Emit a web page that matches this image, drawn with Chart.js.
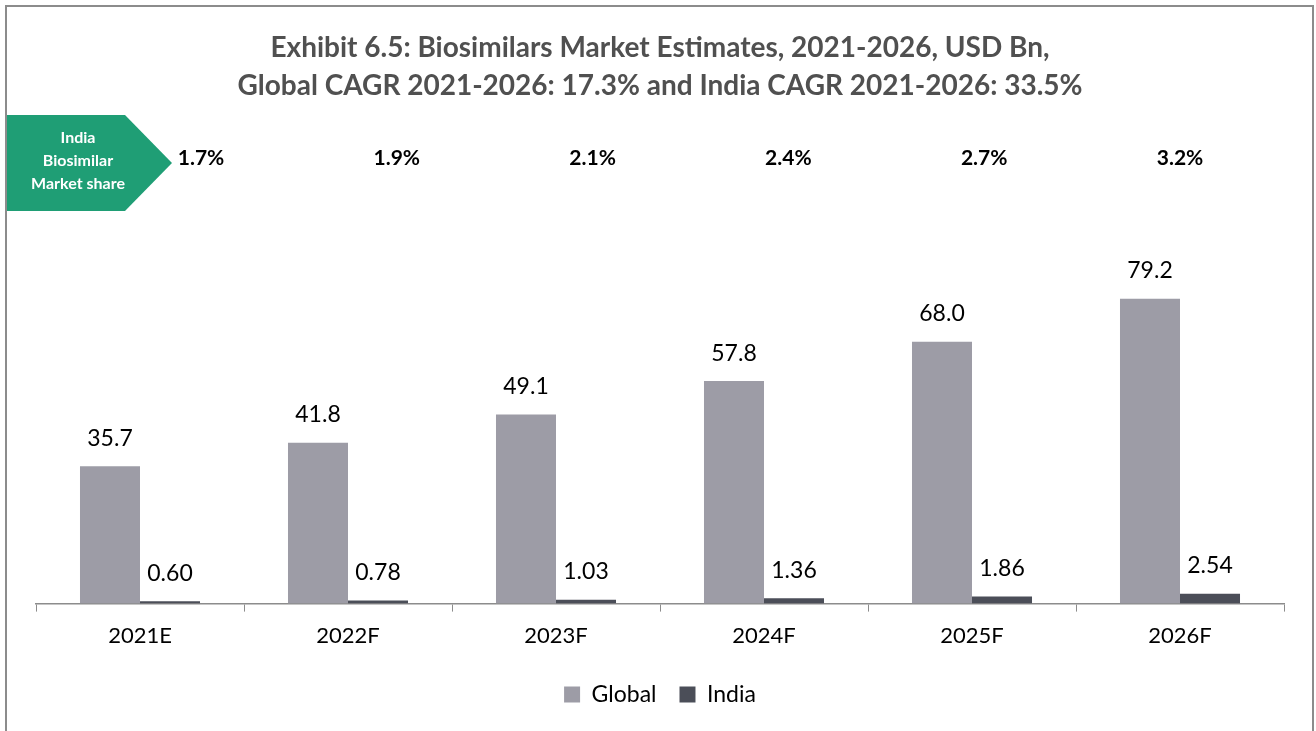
<!DOCTYPE html>
<html>
<head>
<meta charset="utf-8">
<title>Biosimilars Market Estimates</title>
<script src="https://cdn.jsdelivr.net/npm/chart.js@4.4.1/dist/chart.umd.min.js"></script>
<style>
    html, body { margin: 0; padding: 0; background: #fff; }
    #wrap { width: 1316px; height: 731px; position: relative; }
</style>
</head>
<body>
<div id="wrap"><canvas id="chartBiosimilars"></canvas></div>
<script>
// --- DATA ---
const categories = ['2021E', '2022F', '2023F', '2024F', '2025F', '2026F'];
const globalValues = [35.7, 41.8, 49.1, 57.8, 68.0, 79.2];   // USD Bn
const indiaValues = [0.60, 0.78, 1.03, 1.36, 1.86, 2.54];    // USD Bn
const indiaShare = [1.7, 1.9, 2.1, 2.4, 2.7, 3.2];           // % of global
const titleLines = [
    'Exhibit 6.5: Biosimilars Market Estimates, 2021-2026, USD Bn,',
    'Global CAGR 2021-2026: 17.3% and India CAGR 2021-2026: 33.5%'
];

const FONT = 'Lato, "Open Sans", sans-serif';
const GREEN = '#1f9e75';

// Outer frame (left, top, right edges)
const framePlugin = {
    id: 'frame',
    beforeDraw(chart) {
        const ctx = chart.ctx;
        ctx.save();
        ctx.strokeStyle = '#8c8c8c';
        ctx.lineWidth = 2;
        ctx.beginPath();
        ctx.moveTo(6, chart.height);
        ctx.lineTo(6, 6);
        ctx.lineTo(1313, 6);
        ctx.lineTo(1313, chart.height);
        ctx.stroke();
        ctx.restore();
    }
};

// Value labels above each bar
const valueLabels = {
    id: 'valueLabels',
    afterDatasetsDraw(chart) {
        const ctx = chart.ctx;
        ctx.save();
        ctx.font = '23px ' + FONT;
        ctx.fillStyle = '#000';
        ctx.textAlign = 'center';
        ctx.textBaseline = 'middle';
        chart.data.datasets.forEach((ds, di) => {
            const meta = chart.getDatasetMeta(di);
            meta.data.forEach((bar, i) => {
                ctx.fillText(ds.data[i].toFixed(ds.decimals), bar.x, bar.y - 28);
            });
        });
        ctx.restore();
    }
};

// Green arrow badge + India market share row
const shareRow = {
    id: 'shareRow',
    afterDraw(chart) {
        const ctx = chart.ctx;
        const x = chart.scales.x;
        ctx.save();

        // arrow shape
        ctx.fillStyle = GREEN;
        ctx.beginPath();
        ctx.moveTo(7, 115);
        ctx.lineTo(125, 115);
        ctx.lineTo(172, 163);
        ctx.lineTo(125, 211);
        ctx.lineTo(7, 211);
        ctx.closePath();
        ctx.fill();

        ctx.fillStyle = '#fff';
        ctx.font = 'bold 16px ' + FONT;
        ctx.textAlign = 'center';
        ctx.textBaseline = 'middle';
        ['India', 'Biosimilar', 'Market share'].forEach((t, i) => {
            ctx.fillText(t, 78, 138 + i * 23);
        });

        // share percentages, spread from the arrow tip to the last category
        const firstX = 201;
        const lastX = x.getPixelForValue(indiaShare.length - 1);
        const step = (lastX - firstX) / (indiaShare.length - 1);
        ctx.fillStyle = '#000';
        ctx.font = 'bold 21px ' + FONT;
        indiaShare.forEach((v, i) => {
            ctx.fillText(v.toFixed(1) + '%', firstX + step * i, 158);
        });
        ctx.restore();
    }
};

new Chart(document.getElementById('chartBiosimilars'), {
    type: 'bar',
    data: {
        labels: categories,
        datasets: [
            {
                label: 'Global',
                data: globalValues,
                decimals: 1,
                backgroundColor: '#9d9ca6',
                categoryPercentage: 0.577,
                barPercentage: 1.0
            },
            {
                label: 'India',
                data: indiaValues,
                decimals: 2,
                backgroundColor: '#4b4e58',
                categoryPercentage: 0.577,
                barPercentage: 1.0
            }
        ]
    },
    options: {
        responsive: true,
        maintainAspectRatio: false,
        animation: false,
        layout: { padding: { left: 36, right: 32, top: 0, bottom: 15 } },
        plugins: {
            title: {
                display: true,
                text: titleLines,
                color: '#505050',
                font: { family: FONT, size: 28, weight: 'bold', lineHeight: 1.36 },
                padding: { top: 29, bottom: 152 }
            },
            legend: {
                position: 'bottom',
                labels: {
                    color: '#000',
                    font: { family: FONT, size: 23 },
                    boxWidth: 16,
                    boxHeight: 16,
                    padding: 23
                }
            },
            tooltip: { enabled: false }
        },
        scales: {
            x: {
                grid: {
                    display: true,
                    offset: true,
                    drawOnChartArea: false,
                    drawTicks: true,
                    tickLength: 8,
                    color: '#8c8c8c'
                },
                border: { display: true, color: '#8c8c8c', width: 1.5 },
                ticks: {
                    color: '#000',
                    padding: 11,
                    font: { family: FONT, size: 22 }
                }
            },
            y: {
                display: false,
                min: 0,
                max: 90
            }
        }
    },
    plugins: [framePlugin, valueLabels, shareRow]
});
</script>
</body>
</html>
